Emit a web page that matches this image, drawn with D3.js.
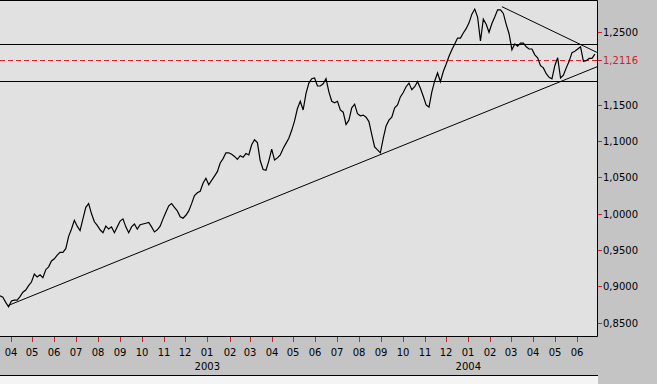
<!DOCTYPE html>
<html>
<head>
<meta charset="utf-8">
<script src="https://cdn.jsdelivr.net/npm/d3@7"></script>
<style>
  body { margin: 0; background: #ffffff; }
  svg { display: block; }
  text { font-family: "DejaVu Sans", Verdana, sans-serif; font-size: 10px; }
</style>
</head>
<body>
<div id="vis"></div>
<script>
// price series: one close every 4 calendar days from startDate
let startDate = '2002-03-17';
let endDate = '2004-06-29';
let stepDays = 4;
let closes = [
  0.887, 0.885, 0.878, 0.872, 0.880, 0.881, 0.881, 0.886, 0.892, 0.895,
  0.901, 0.906, 0.917, 0.913, 0.916, 0.912, 0.923, 0.927, 0.935, 0.938,
  0.943, 0.947, 0.947, 0.952, 0.969, 0.979, 0.991, 0.983, 0.977, 0.993,
  1.009, 1.014, 1.000, 0.989, 0.984, 0.978, 0.974, 0.983, 0.979, 0.982,
  0.974, 0.982, 0.990, 0.993, 0.982, 0.974, 0.982, 0.986, 0.979, 0.985,
  0.986, 0.987, 0.988, 0.982, 0.975, 0.978, 0.983, 0.993, 1.002, 1.011,
  1.014, 1.009, 1.004, 0.996, 0.994, 0.998, 1.004, 1.014, 1.025, 1.029,
  1.031, 1.042, 1.049, 1.040, 1.046, 1.052, 1.058, 1.070, 1.076, 1.084,
  1.084, 1.082, 1.079, 1.075, 1.080, 1.078, 1.083, 1.081, 1.095, 1.102,
  1.098, 1.073, 1.061, 1.060, 1.073, 1.089, 1.074, 1.077, 1.081, 1.090,
  1.097, 1.104, 1.115, 1.128, 1.145, 1.155, 1.143, 1.166, 1.180, 1.186,
  1.187, 1.176, 1.176, 1.179, 1.186, 1.168, 1.155, 1.153, 1.155, 1.143,
  1.140, 1.123, 1.129, 1.146, 1.151, 1.138, 1.135, 1.136, 1.133, 1.127,
  1.109, 1.092, 1.088, 1.084, 1.104, 1.121, 1.129, 1.133, 1.146, 1.150,
  1.161, 1.167, 1.175, 1.180, 1.171, 1.175, 1.182, 1.173, 1.162, 1.150,
  1.147, 1.168, 1.183, 1.194, 1.182, 1.196, 1.206, 1.217, 1.226, 1.234,
  1.242, 1.242, 1.249, 1.255, 1.263, 1.275, 1.282, 1.271, 1.238, 1.268,
  1.261, 1.250, 1.262, 1.271, 1.281, 1.281, 1.276, 1.261, 1.248, 1.226,
  1.234, 1.231, 1.235, 1.235, 1.230, 1.227, 1.227, 1.219, 1.215, 1.204,
  1.201, 1.193, 1.188, 1.186, 1.204, 1.215, 1.187, 1.191, 1.201, 1.210,
  1.222, 1.224, 1.227, 1.230, 1.210, 1.211, 1.214, 1.214, 1.220
];

// horizontal levels and the current quote
let levels = [1.2335, 1.1825];
let lastQuote = 1.2116;

// trend lines, each as two anchor points [date, value]
let supportLine = [['2002-03-28', 0.8735], ['2004-06-29', 1.2025]];
let resistLine = [['2004-02-17', 1.2853], ['2004-06-29', 1.2223]];

// right axis tick values and labels
let yTicks = [0.85, 0.90, 0.95, 1.00, 1.05, 1.10, 1.15, 1.25];
let yTickLabels = ['0,8500', '0,9000', '0,9500', '1,0000', '1,0500', '1,1000', '1,1500', '1,2500'];
let lastQuoteLabel = '1,2116';
let yearLabels = ['2003', '2004'];

let width = 657;
let height = 384;
let plot = { left: 0, top: 0, right: 597, bottom: 336 };

let parse = d3.utcParse('%Y-%m-%d');

let x = d3.scaleUtc()
  .domain([parse(startDate), parse(endDate)])
  .range([plot.left, plot.right]);

let y = d3.scaleLinear()
  .domain([0.85, 1.25])
  .range([322.7, 32.3]);

let series = closes.map(function (v, i) {
  return { date: d3.utcDay.offset(parse(startDate), i * stepDays), value: v };
});

let svg = d3.select('#vis').append('svg')
  .attr('width', width)
  .attr('height', height);

// outer grey panel
svg.append('rect')
  .attr('x', 0).attr('y', 0)
  .attr('width', width).attr('height', height)
  .attr('fill', '#c4c4c4');
svg.append('rect')
  .attr('x', 0).attr('y', 376)
  .attr('width', plot.right + 1).attr('height', height - 376)
  .attr('fill', '#f4f4f4');
svg.append('line')
  .attr('x1', 0).attr('x2', plot.right + 1)
  .attr('y1', 375.5).attr('y2', 375.5)
  .attr('stroke', '#000');

// plot area (frame on top, right and bottom only)
svg.append('rect')
  .attr('x', plot.left).attr('y', plot.top)
  .attr('width', plot.right - plot.left).attr('height', plot.bottom - plot.top)
  .attr('fill', '#e1e1e1');
svg.append('path')
  .attr('d', 'M' + plot.left + ',' + (plot.top + 0.5) +
    'H' + (plot.right + 0.5) + 'V' + (plot.bottom + 0.5) + 'H' + plot.left)
  .attr('fill', 'none')
  .attr('stroke', '#000');

svg.append('clipPath')
  .attr('id', 'clip')
  .append('rect')
  .attr('x', plot.left).attr('y', plot.top + 1)
  .attr('width', plot.right - plot.left).attr('height', plot.bottom - plot.top - 1);

let g = svg.append('g').attr('clip-path', 'url(#clip)');

// horizontal levels
g.selectAll('.level')
  .data(levels)
  .enter().append('line')
  .attr('class', 'level')
  .attr('x1', plot.left).attr('x2', plot.right)
  .attr('y1', d => Math.round(y(d)) + 0.5)
  .attr('y2', d => Math.round(y(d)) + 0.5)
  .attr('stroke', '#000');

// current quote, red dashed
g.append('line')
  .attr('x1', plot.left).attr('x2', plot.right)
  .attr('y1', Math.round(y(lastQuote)) + 0.5)
  .attr('y2', Math.round(y(lastQuote)) + 0.5)
  .attr('stroke', '#e0202a')
  .attr('stroke-dasharray', '5,3');

// trend lines
let trend = d3.line()
  .x(d => x(parse(d[0])))
  .y(d => y(d[1]));
[supportLine, resistLine].forEach(function (pts) {
  g.append('path')
    .attr('d', trend(pts))
    .attr('fill', 'none')
    .attr('stroke', '#000')
    .attr('stroke-width', 1);
});

// price line
let line = d3.line()
  .x(d => x(d.date))
  .y(d => y(d.value));
g.append('path')
  .attr('d', line(series))
  .attr('fill', 'none')
  .attr('stroke', '#000')
  .attr('stroke-width', 1.2)
  .attr('stroke-linejoin', 'miter');

// right axis
let yAxis = svg.append('g')
  .attr('transform', 'translate(' + (plot.right + 1) + ',0)');
let yt = yAxis.selectAll('.ytick')
  .data(yTicks)
  .enter().append('g')
  .attr('class', 'ytick')
  .attr('transform', d => 'translate(0,' + Math.round(y(d)) + ')');
yt.append('line')
  .attr('x1', 0).attr('x2', 4)
  .attr('y1', 0.5).attr('y2', 0.5)
  .attr('stroke', '#d0202a');
yt.append('text')
  .attr('x', 5).attr('dy', '0.38em')
  .attr('fill', '#000')
  .text((d, i) => yTickLabels[i]);

let q = yAxis.append('g')
  .attr('transform', 'translate(0,' + Math.round(y(lastQuote)) + ')');
q.append('line')
  .attr('x1', 0).attr('x2', 4)
  .attr('y1', 0.5).attr('y2', 0.5)
  .attr('stroke', '#d0202a');
q.append('text')
  .attr('x', 5).attr('dy', '0.38em')
  .attr('fill', '#d0202a')
  .text(lastQuoteLabel);

// bottom axis, one tick per month
let months = d3.utcMonth.range(d3.utcMonth.ceil(x.domain()[0]), x.domain()[1]);
let xt = svg.append('g').selectAll('.xtick')
  .data(months)
  .enter().append('g')
  .attr('class', 'xtick')
  .attr('transform', d => 'translate(' + Math.round(x(d)) + ',' + plot.bottom + ')');
xt.append('line')
  .attr('x1', 0.5).attr('x2', 0.5)
  .attr('y1', 1).attr('y2', 6)
  .attr('stroke', '#d0202a');
xt.append('text')
  .attr('y', 16)
  .attr('dy', '0.38em')
  .attr('text-anchor', 'middle')
  .text(d3.utcFormat('%m'));

// year labels under January
svg.selectAll('.year')
  .data(yearLabels)
  .enter().append('text')
  .attr('class', 'year')
  .attr('x', d => x(parse(d + '-01-01')))
  .attr('y', 366)
  .attr('dy', '0.38em')
  .attr('text-anchor', 'middle')
  .text(d => d);
</script>
</body>
</html>
